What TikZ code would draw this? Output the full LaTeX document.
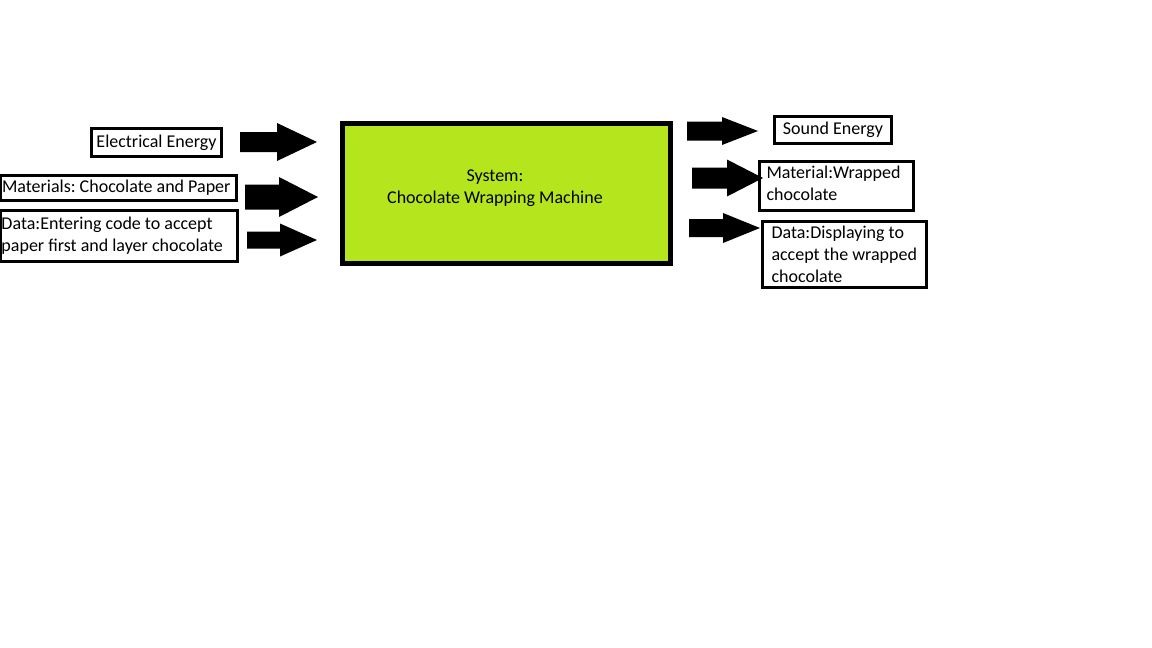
\documentclass[tikz,border=0pt]{standalone}
\usepackage{fontspec}
\setmainfont{Carlito}
\frenchspacing
\newcommand{\blockarr}[6]{\fill[black] (#1,#4-#5) -- (#2,#4-#5) -- (#2,#4-#6) -- (#3,#4) -- (#2,#4+#6) -- (#2,#4+#5) -- (#1,#4+#5) -- cycle;}
\begin{document}
\begin{tikzpicture}[x=1pt,y=-1pt,
  every node/.style={font=\fontsize{18}{22}\selectfont, text=black},
  iobox/.style={draw=black, line width=3pt, fill=white, rectangle, inner ysep=0pt},
  sysbox/.style={draw=black, line width=5pt, fill=lime1, rectangle}]
\definecolor{lime1}{RGB}{181,230,29}
\useasboundingbox (0,0) rectangle (1152,648);
\fill[white] (0,0) rectangle (1152,648);
% system
\node[sysbox, minimum width=328pt, minimum height=140pt] (sys) at (506.5,193.5) {};
\node[align=center, inner sep=0pt] (systxt) at (495,188) {System:\\Chocolate Wrapping Machine};
% inputs
\node[iobox, minimum width=130pt, minimum height=28pt, align=center, inner xsep=2pt] (ee) at (156.5,142.5) {Electrical Energy};
\node[iobox, minimum width=236pt, minimum height=25pt, text width=233pt, align=flush left, inner xsep=1.5pt] (mat) at (118.5,188) {Materials: Chocolate and Paper};
\node[iobox, minimum width=237pt, minimum height=51pt, text width=234pt, align=flush left, inner xsep=1.5pt] (din) at (118.5,235.5) {Data:Entering code to accept\\paper first and layer chocolate};
% outputs
\node[iobox, minimum width=117pt, minimum height=27pt, align=center, inner xsep=2pt] (se) at (833,130) {Sound Energy};
\node[iobox, minimum width=154pt, minimum height=49pt, text width=140pt, align=flush left, inner xsep=6pt] (mout) at (836.5,186) {Material:Wrapped\\chocolate\par\vspace{6pt}};
\node[iobox, minimum width=164pt, minimum height=66pt, text width=146pt, align=flush left, inner xsep=9pt] (dout) at (844.5,254.5) {Data:Displaying to\\accept the wrapped\\chocolate};
% arrows
\blockarr{240}{277}{317}{142}{10}{19}
\blockarr{245}{279}{318}{197}{12.5}{20}
\blockarr{247}{280}{317}{240}{8.5}{16.5}
\blockarr{687}{722}{758}{131}{9.5}{14}
\blockarr{692}{727}{763}{178}{10.5}{18.5}
\blockarr{689}{723}{760}{228}{9}{15}
\end{tikzpicture}
\end{document}
